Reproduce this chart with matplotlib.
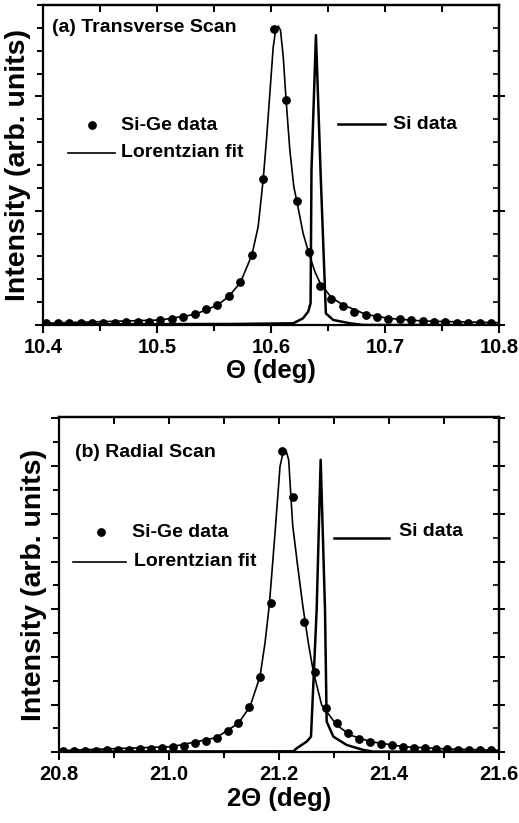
import matplotlib
matplotlib.use("Agg")
import matplotlib.pyplot as plt
from matplotlib.ticker import MultipleLocator
from matplotlib.lines import Line2D

plt.rcParams['font.family'] = ['Liberation Sans', 'DejaVu Sans']
plt.rcParams['font.weight'] = 'bold'

# ---- (a) transverse scan ----
sige_a_x = [10.403 + 0.01 * k for k in range(40)]
sige_a_y = [0.015, 0.015, 0.015, 0.015, 0.015, 0.020, 0.020, 0.026, 0.026, 0.029,
            0.041, 0.052, 0.070, 0.093, 0.137, 0.175, 0.251, 0.373, 0.612, 1.274,
            2.586, 1.968, 1.087, 0.636, 0.341, 0.227, 0.166, 0.111, 0.090, 0.070,
            0.055, 0.050, 0.041, 0.035, 0.029, 0.023, 0.020, 0.020, 0.017, 0.017]
fit_a_x = [10.4, 10.5036, 10.5334, 10.5533, 10.5633, 10.5732, 10.5832, 10.5887,
           10.5931, 10.5960, 10.5990, 10.6019, 10.6042, 10.6063, 10.6083, 10.6107,
           10.6130, 10.6165, 10.6200, 10.6233, 10.6282, 10.6332, 10.6385, 10.6432,
           10.6531, 10.6634, 10.6832, 10.7032, 10.7330, 10.8]
fit_a_y = [0.015, 0.044, 0.093, 0.175, 0.254, 0.373, 0.612, 0.86,
           1.27, 1.62, 2.03, 2.43, 2.59, 2.615, 2.58, 2.35,
           2.00, 1.53, 1.21, 1.05, 0.80, 0.627, 0.466, 0.364,
           0.239, 0.175, 0.093, 0.058, 0.035, 0.020]
si_a_x = [10.4, 10.5668, 10.6195, 10.628, 10.6326, 10.6347, 10.6355, 10.6394,
          10.6434, 10.6481, 10.6546, 10.6692, 10.681, 10.8]
si_a_y = [0.006, 0.009, 0.015, 0.058, 0.117, 0.19, 1.356, 2.536,
          1.356, 0.102, 0.044, 0.015, 0.0, 0.0]

# ---- (b) radial scan ----
sige_b_x = [20.806 + 0.02 * k for k in range(40)]
sige_b_y = [0.035, 0.035, 0.035, 0.035, 0.042, 0.049, 0.056, 0.063, 0.077, 0.091,
            0.119, 0.133, 0.189, 0.238, 0.308, 0.448, 0.608, 0.944, 1.587, 3.126,
            6.322, 5.350, 2.727, 1.692, 0.937, 0.608, 0.413, 0.280, 0.224, 0.182,
            0.161, 0.112, 0.098, 0.084, 0.070, 0.063, 0.056, 0.049, 0.042, 0.042]
fit_b_x = [20.8, 21.0056, 21.0857, 21.1257, 21.1469, 21.1651, 21.1742, 21.1821,
           21.1924, 21.2015, 21.2076, 21.2124, 21.2173, 21.2246, 21.2337, 21.2428,
           21.2531, 21.2622, 21.2773, 21.3046, 21.3289, 21.3659, 21.4259, 21.506, 21.6]
fit_b_y = [0.035, 0.119, 0.308, 0.608, 0.958, 1.587, 2.29, 3.09,
           4.59, 5.99, 6.31, 6.33, 6.13, 4.76, 3.90, 3.09,
           2.29, 1.69, 0.993, 0.573, 0.364, 0.224, 0.119, 0.070, 0.042]
si_b_x = [20.8, 21.2015, 21.2258, 21.2318, 21.25, 21.2579, 21.2682, 21.2755,
          21.2834, 21.2864, 21.2986, 21.3228, 21.3531, 21.3713, 21.6]
si_b_y = [0.014, 0.021, 0.021, 0.084, 0.224, 0.329, 2.986, 6.133,
          2.986, 0.643, 0.329, 0.154, 0.049, 0.014, 0.014]

fig = plt.figure(figsize=(5.19, 8.23), dpi=100)
ax1 = fig.add_axes([0.0829, 0.6051, 0.8786, 0.3888])
ax2 = fig.add_axes([0.1143, 0.0859, 0.8472, 0.4074])

FS = 14


def style(ax, xmaj, xmin, ymaj, ymin):
    for s in ax.spines.values():
        s.set_linewidth(1.6)
    ax.xaxis.set_major_locator(MultipleLocator(xmaj))
    ax.xaxis.set_minor_locator(MultipleLocator(xmin))
    ax.yaxis.set_major_locator(MultipleLocator(ymaj))
    ax.yaxis.set_minor_locator(MultipleLocator(ymin))
    ax.tick_params(axis='x', which='both', direction='out', top=False, labelsize=14.5, width=1.5, pad=3)
    ax.tick_params(axis='x', which='major', length=6)
    ax.tick_params(axis='x', which='minor', length=4)
    ax.tick_params(axis='y', which='both', direction='out', left=True, right=False, labelleft=False, width=1.4)
    ax.tick_params(axis='y', which='major', length=6)
    ax.tick_params(axis='y', which='minor', length=4)
    sec = ax.secondary_xaxis('top')
    sec.xaxis.set_major_locator(MultipleLocator(xmin))
    sec.tick_params(direction='in', length=5, width=1.4, labeltop=False)
    sec.spines['top'].set_linewidth(1.6)
    secy = ax.secondary_yaxis('right')
    secy.yaxis.set_major_locator(MultipleLocator(ymaj))
    secy.yaxis.set_minor_locator(MultipleLocator(ymin))
    secy.tick_params(which='major', direction='inout', length=8, width=1.4, labelright=False)
    secy.tick_params(which='minor', direction='in', length=4, width=1.2)
    secy.spines['right'].set_linewidth(1.6)
    for t in ax.get_xticklabels():
        t.set_fontweight('bold')


def panel(ax, sx, sy, fx, fy, six, siy):
    ax.plot(fx, fy, color='black', lw=1.2, zorder=2)
    ax.plot(six, siy, color='black', lw=1.8, zorder=3)
    ax.plot(sx, sy, 'o', color='black', ms=5.3, zorder=4)


panel(ax1, sige_a_x, sige_a_y, fit_a_x, fit_a_y, si_a_x, si_a_y)
ax1.set_xlim(10.4, 10.8)
ax1.set_ylim(0, 2.80)
style(ax1, 0.1, 0.05, 1.0, 0.2)
ax1.set_xlabel('Θ (deg)', fontsize=18.5, fontweight='bold', labelpad=2)
ax1.set_ylabel('Intensity (arb. units)', fontsize=20.5, fontweight='bold', labelpad=3)
ax1.text(0.02, 0.93, '(a) Transverse Scan', transform=ax1.transAxes, fontsize=FS, fontweight='bold', va='center')
# legend (a)
ax1.plot([0.108], [0.624], 'o', color='black', ms=5.3, transform=ax1.transAxes, clip_on=False)
ax1.text(0.171, 0.624, 'Si-Ge data', transform=ax1.transAxes, fontsize=FS, fontweight='bold', va='center')
ax1.add_line(Line2D([0.055, 0.158], [0.538, 0.538], color='black', lw=1.2, transform=ax1.transAxes))
ax1.text(0.171, 0.538, 'Lorentzian fit', transform=ax1.transAxes, fontsize=FS, fontweight='bold', va='center')
ax1.add_line(Line2D([0.647, 0.750], [0.627, 0.627], color='black', lw=1.8, transform=ax1.transAxes))
ax1.text(0.768, 0.627, 'Si data', transform=ax1.transAxes, fontsize=FS, fontweight='bold', va='center')

panel(ax2, sige_b_x, sige_b_y, fit_b_x, fit_b_y, si_b_x, si_b_y)
ax2.set_xlim(20.8, 21.6)
ax2.set_ylim(0, 7.03)
style(ax2, 0.2, 0.1, 1.0, 0.5)
ax2.set_xlabel('2Θ (deg)', fontsize=18.5, fontweight='bold', labelpad=2)
ax2.set_ylabel('Intensity (arb. units)', fontsize=20.5, fontweight='bold', labelpad=3)
ax2.text(0.035, 0.895, '(b) Radial Scan', transform=ax2.transAxes, fontsize=FS, fontweight='bold', va='center')
ax2.plot([0.095], [0.656], 'o', color='black', ms=5.3, transform=ax2.transAxes, clip_on=False)
ax2.text(0.165, 0.656, 'Si-Ge data', transform=ax2.transAxes, fontsize=FS, fontweight='bold', va='center')
ax2.add_line(Line2D([0.03, 0.152], [0.568, 0.568], color='black', lw=1.2, transform=ax2.transAxes))
ax2.text(0.170, 0.568, 'Lorentzian fit', transform=ax2.transAxes, fontsize=FS, fontweight='bold', va='center')
ax2.add_line(Line2D([0.625, 0.75], [0.640, 0.640], color='black', lw=1.8, transform=ax2.transAxes))
ax2.text(0.772, 0.660, 'Si data', transform=ax2.transAxes, fontsize=FS, fontweight='bold', va='center')

fig.savefig('out.png', dpi=100)
